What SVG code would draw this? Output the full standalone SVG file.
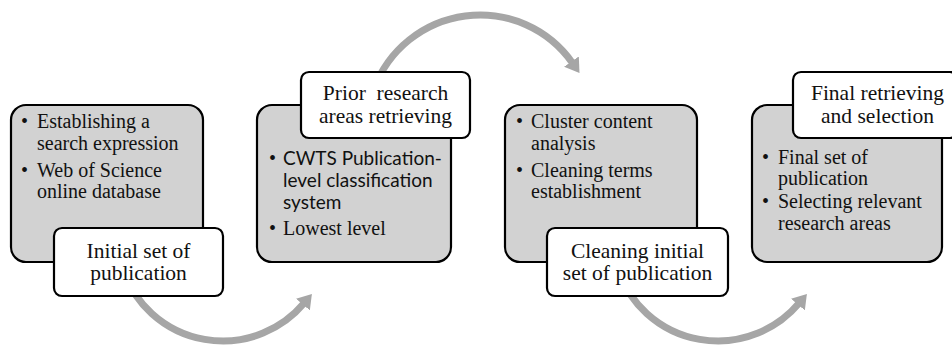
<svg xmlns="http://www.w3.org/2000/svg" width="952" height="345" viewBox="0 0 952 345">
<style>
.box{fill:#d2d2d2;stroke:#000;stroke-width:2.2}
.lab{fill:#fff;stroke:#000;stroke-width:2.2}
.t{font-family:"Liberation Serif","Times New Roman",serif;font-size:20px;fill:#111}
.s{font-family:Lato,"Noto Sans",sans-serif;font-size:19px;fill:#111}
.l{font-family:"Liberation Serif","Times New Roman",serif;font-size:21.5px;fill:#111;text-anchor:middle}
.arc{fill:none;stroke:#a6a6a6;stroke-width:7}
</style>
<defs>
<marker id="ah" markerUnits="userSpaceOnUse" markerWidth="14" markerHeight="18" viewBox="0 0 14 18" refX="2" refY="9" orient="auto">
<path d="M0,0 L14,9 L0,18 z" fill="#a6a6a6"/>
</marker>
</defs>
<g id="connectors">
<path class="arc" d="M123.4,271.3 A106,106 0 0 0 304.2,303.1" marker-end="url(#ah)"/>
<path class="arc" d="M373.8,89.4 A113,113 0 0 1 572.6,63.2" marker-end="url(#ah)"/>
<path class="arc" d="M618.4,271.3 A106,106 0 0 0 799.2,303.1" marker-end="url(#ah)"/>
</g>
<g id="step1">
<rect class="box" x="11" y="105" width="192" height="157" rx="15"/>
<text class="t" x="21" y="128">•</text>
<text class="t" x="37" y="128">Establishing a</text>
<text class="t" x="37" y="150">search expression</text>
<text class="t" x="21" y="177">•</text>
<text class="t" x="37" y="177">Web of Science</text>
<text class="t" x="37" y="198">online database</text>
<rect class="lab" x="54" y="228" width="169" height="68" rx="8"/>
<text class="l" x="138.5" y="258">Initial set of</text>
<text class="l" x="138.5" y="280">publication</text>
</g>
<g id="step2">
<rect class="box" x="257" y="105" width="194" height="157" rx="15"/>
<text class="t" x="269" y="165">•</text>
<text class="s" x="283" y="165">CWTS Publication-</text>
<text class="s" x="283" y="187">level classification</text>
<text class="s" x="283" y="209">system</text>
<text class="t" x="269" y="235">•</text>
<text class="t" x="283" y="235">Lowest level</text>
<rect class="lab" x="301" y="72" width="169" height="66" rx="8"/>
<text class="l" x="385.5" y="100" xml:space="preserve">Prior  research</text>
<text class="l" x="385.5" y="123">areas retrieving</text>
</g>
<g id="step3">
<rect class="box" x="505" y="105" width="192" height="157" rx="15"/>
<text class="t" x="516" y="128">•</text>
<text class="t" x="531" y="128">Cluster content</text>
<text class="t" x="531" y="150">analysis</text>
<text class="t" x="516" y="177">•</text>
<text class="t" x="531" y="177">Cleaning terms</text>
<text class="t" x="531" y="198">establishment</text>
<rect class="lab" x="547" y="228" width="181" height="68" rx="8"/>
<text class="l" x="637.5" y="258">Cleaning initial</text>
<text class="l" x="637.5" y="280">set of publication</text>
</g>
<g id="step4">
<rect class="box" x="752" y="105" width="190" height="157" rx="15"/>
<text class="t" x="762" y="164">•</text>
<text class="t" x="778" y="164">Final set of</text>
<text class="t" x="778" y="185">publication</text>
<text class="t" x="762" y="208">•</text>
<text class="t" x="778" y="208">Selecting relevant</text>
<text class="t" x="778" y="230">research areas</text>
<rect class="lab" x="793" y="72" width="165" height="66" rx="8"/>
<text class="l" x="877.5" y="100">Final retrieving</text>
<text class="l" x="877.5" y="123">and selection</text>
</g>
</svg>
